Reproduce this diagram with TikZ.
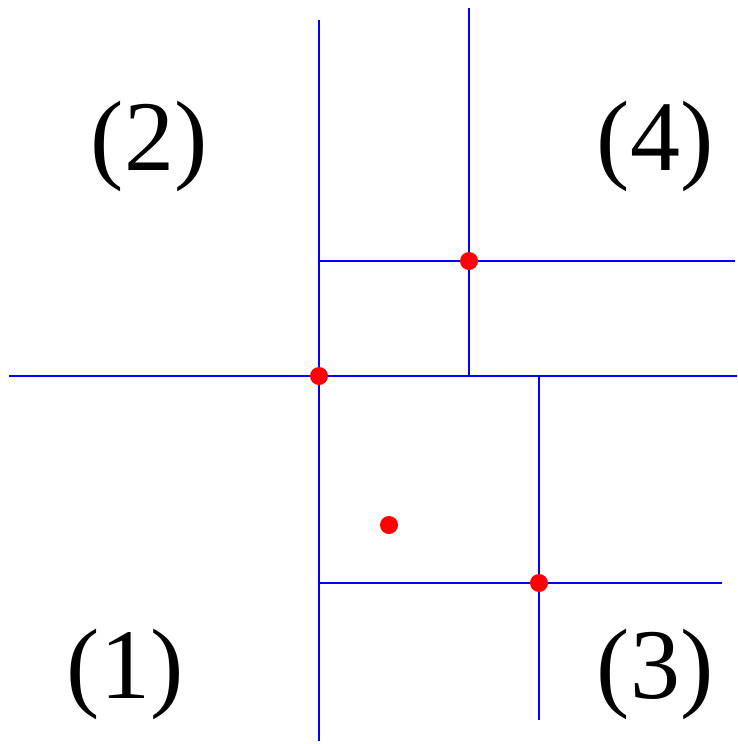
\documentclass[tikz,border=0pt]{standalone}
\usepackage{fontspec}
\setmainfont{Liberation Serif}
\begin{document}
\begin{tikzpicture}[x=1pt,y=-1pt,
  seg/.style={blue,line width=2.2pt},
  dot/.style={circle,fill=red,inner sep=0pt,minimum size=18pt},
  lab/.style={anchor=base,inner sep=0pt,font=\fontsize{100}{100}\selectfont}]
\useasboundingbox (0,0) rectangle (737,744);
% coordinates
\coordinate (v1t) at (319,20);  \coordinate (v1b) at (319,741);
\coordinate (v2t) at (469,8);   \coordinate (v2b) at (469,376);
\coordinate (h1l) at (9,376);   \coordinate (h1r) at (737,376);
\coordinate (h2l) at (319,261); \coordinate (h2r) at (735,261);
\coordinate (v3t) at (539,376); \coordinate (v3b) at (539,720);
\coordinate (h3l) at (319,583); \coordinate (h3r) at (722,583);
\draw[seg] (v1t) -- (v1b);
\draw[seg] (v2t) -- (v2b);
\draw[seg] (h1l) -- (h1r);
\draw[seg] (h2l) -- (h2r);
\draw[seg] (v3t) -- (v3b);
\draw[seg] (h3l) -- (h3r);
\node[dot] (p1) at (469,261) {};
\node[dot] (p2) at (319,376) {};
\node[dot] (p3) at (389,525) {};
\node[dot] (p4) at (539,583) {};
\node[lab] (l2) at (149,170) {(2)};
\node[lab] (l4) at (655,170) {(4)};
\node[lab] (l1) at (125,698) {(1)};
\node[lab] (l3) at (655,698) {(3)};
\end{tikzpicture}
\end{document}
